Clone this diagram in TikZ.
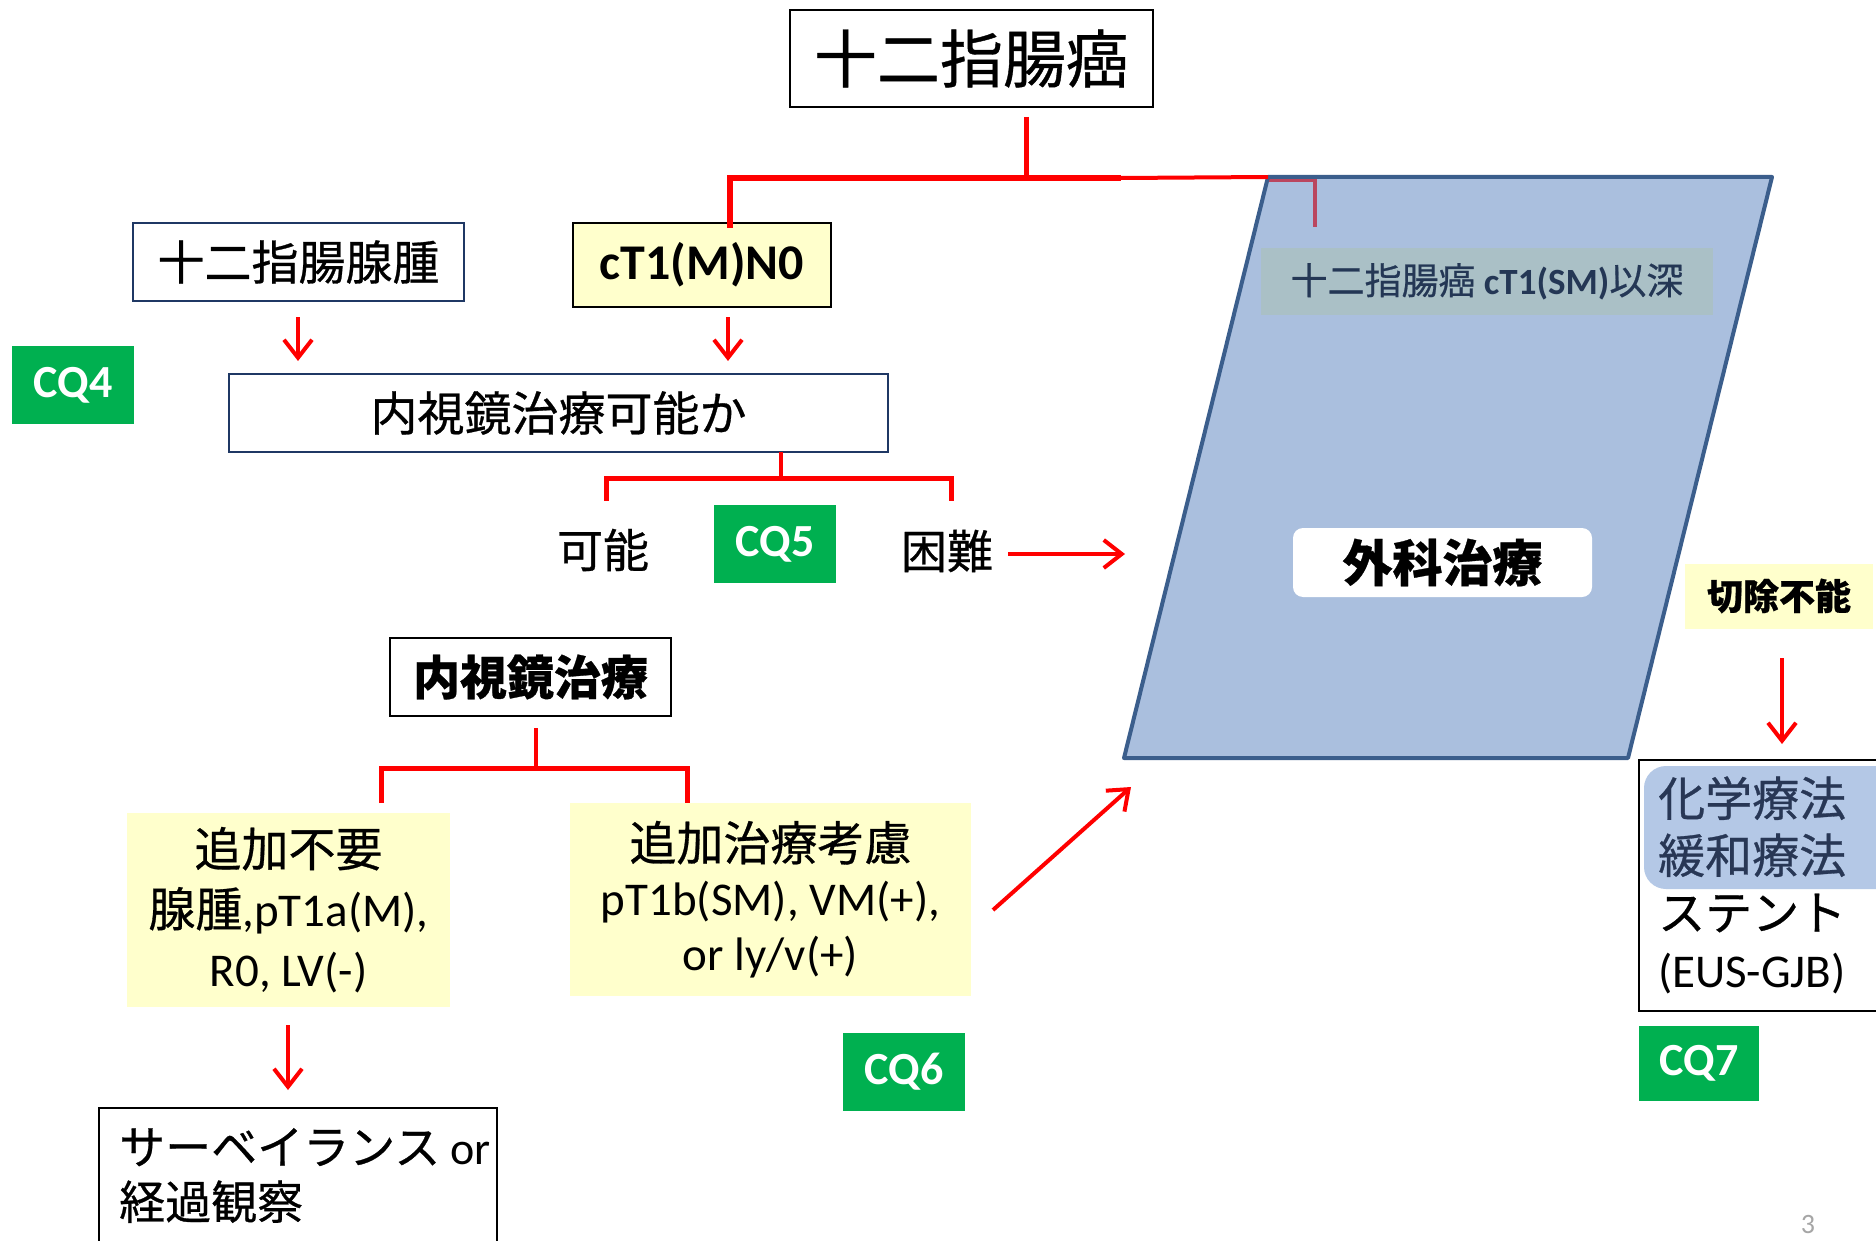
\documentclass[tikz,border=0pt]{standalone}
\usepackage{fontspec}
\setmainfont{Carlito}
\newfontfamily\jp[FakeBold=0.6]{Noto Sans CJK JP}
\usetikzlibrary{arrows.meta}
\definecolor{myred}{RGB}{255,0,0}
\definecolor{cqgreen}{RGB}{0,176,80}
\definecolor{lyellow}{RGB}{255,255,204}
\definecolor{navy}{RGB}{31,56,100}
\definecolor{parafill}{RGB}{170,191,222}
\definecolor{paraline}{RGB}{59,94,140}
\definecolor{labelfill}{RGB}{170,192,198}
\definecolor{labeltext}{RGB}{36,55,85}
\definecolor{mutedred}{RGB}{186,70,95}
\definecolor{chemofill}{RGB}{180,200,230}
\definecolor{chemotext}{RGB}{40,55,85}
\newcommand\fsz[2]{\fontsize{#1}{#2}\selectfont}
\begin{document}
\begin{tikzpicture}[x=1pt,y=-1pt,
  wire/.style={draw=myred,line width=5pt},
  thinwire/.style={draw=myred,line width=4pt},
  arr/.style={draw=myred,line width=4pt,-{Straight Barb[length=18pt,width=28pt]}},
  frame/.style={draw,line width=2pt,inner sep=0pt,align=center},
  navyframe/.style={draw=navy,line width=2pt,inner sep=0pt,align=center},
  yellowbox/.style={fill=lyellow,inner sep=0pt,align=center},
  cq/.style={fill=cqgreen,text=white,inner sep=0pt,minimum width=122pt,minimum height=78pt,font=\fsz{46}{46}\bfseries},
  plain/.style={inner sep=0pt,align=center}
]
\useasboundingbox (0,0) rectangle (1876,1241);
\clip (0,0) rectangle (1876,1241);
\fill[white] (0,0) rectangle (1876,1241);

% ---------- parallelogram (surgery) ----------
\coordinate (p1) at (1268,177);
\coordinate (p2) at (1772,177);
\coordinate (p3) at (1628,758);
\coordinate (p4) at (1124,758);
\fill[parafill] (p1)--(p2)--(p3)--(p4)--cycle;
\coordinate (pin) at (1315,180);
\coordinate (pdrop) at (1315,227);
\draw[mutedred,line width=4pt] (p1) ++(0,3) -- (pin) -- (pdrop);
\draw[paraline,line width=4pt,line join=round] (p1)--(p2)--(p3)--(p4)--cycle;

\node[fill=labelfill,inner sep=0pt,minimum width=452pt,minimum height=67pt,text=labeltext,font=\fsz{37}{37}]
  (sm) at (1487,281.5) {{\jp 十二指腸癌} \textbf{cT1(SM)}{\jp 以深}};
\node[fill=white,rounded corners=10pt,inner sep=0pt,minimum width=299pt,minimum height=69pt,font=\fsz{50}{50}]
  (geka) at (1442.5,562.5) {\jp\bfseries 外科治療};

% ---------- top ----------
\node[frame,minimum width=363pt,minimum height=97pt,font=\fsz{63}{63}] (title) at (971.5,58.5) {\jp 十二指腸癌};
\node[navyframe,minimum width=331pt,minimum height=78pt,font=\fsz{47}{47}] (adenoma) at (298.5,262) {\jp 十二指腸腺腫};
\node[frame,fill=lyellow,minimum width=258pt,minimum height=84pt,font=\fsz{50}{50}\bfseries] (ct1) at (702,265) {cT1(M)N0};
\node[cq] (cq4) at (73,385) {CQ4};
\node[navyframe,minimum width=659pt,minimum height=78pt,font=\fsz{47}{47}] (endoq) at (558.5,413) {\jp 内視鏡治療可能か};

\coordinate (tdrop) at (1026,117);
\coordinate (bus) at (1026,178);
\coordinate (busL) at (730,178);
\coordinate (busM) at (1121,178);
\coordinate (ct1top) at (730,228);
\draw[wire] (tdrop) -- (bus);
\draw[wire,line width=6pt] (ct1top) -- (busL) -- (busM);
\draw[thinwire] (busM) -- (p1);

\draw[arr] (298,317) -- (298,361);
\draw[arr] (728,317) -- (728,361);

% ---------- possible / difficult ----------
\node[plain,font=\fsz{46}{46}] (kanou) at (603,550) {\jp 可能};
\node[cq] (cq5) at (775,544) {CQ5};
\node[plain,font=\fsz{46}{46}] (konnan) at (947,551) {\jp 困難};
\coordinate (eq1) at (781,452);
\coordinate (eq2) at (781,478);
\coordinate (eqL) at (606,478);
\coordinate (eqR) at (951,478);
\draw[thinwire] (eq1) -- (eq2);
\draw[wire,line cap=rect] (606,498) -- (eqL) -- (eqR) -- (951,498);
\coordinate (kIn) at (1125,554);
\draw[arr] (1008,554) -- (kIn);

% ---------- endoscopic treatment ----------
\node[frame,minimum width=281pt,minimum height=78pt,font=\fsz{47}{47}] (endo) at (530.5,677) {\jp\bfseries 内視鏡治療};
\coordinate (e1) at (536,728);
\coordinate (e2) at (536,768);
\coordinate (eL) at (381,768);
\coordinate (eR) at (687,768);
\draw[thinwire] (e1) -- (e2);
\draw[wire] (381,803) -- (eL) -- (eR) -- (687,803);

\node[yellowbox,minimum width=323pt,minimum height=194pt,font=\fsz{47}{60}] (noadd) at (288.5,910)
  {{\jp 追加不要}\\{\jp 腺腫},pT1a(M),\\R0, LV(-)};
\node[yellowbox,minimum width=401pt,minimum height=193pt,font=\fsz{47}{55}] (add) at (770.5,899.5)
  {{\jp 追加治療考慮}\\pT1b(SM), VM(+),\\or ly/v(+)};
\node[cq] (cq6) at (904,1072) {CQ6};
\coordinate (dIn) at (1131,787);
\draw[arr] (993,910) -- (dIn);

\draw[arr] (288,1025) -- (288,1090);
\draw[line width=2pt] (99,1280) -- (99,1108) -- (497,1108) -- (497,1280);
\node[inner sep=0pt,align=left,anchor=west,font=\fsz{46}{55}] (surv) at (119,1175.5)
  {{\jp サーベイランス} or\\{\jp 経過観察}};

% ---------- unresectable ----------
\node[yellowbox,minimum width=188pt,minimum height=65pt,font=\fsz{36}{36}] (unres) at (1779,596) {\jp\bfseries 切除不能};
\draw[arr] (1782,658) -- (1782,744);
\draw[line width=2pt] (1900,760) -- (1639,760) -- (1639,1011) -- (1900,1011);
\fill[chemofill,rounded corners=22pt] (1644,766) rectangle (1920,889);
\node[inner sep=0pt,align=left,anchor=west,font=\fsz{47}{57}] (chemo) at (1658,885)
  {\textcolor{chemotext}{\jp 化学療法}\\\textcolor{chemotext}{\jp 緩和療法}\\{\jp ステント}\\(EUS-GJB)};
\node[cq,minimum width=120pt,minimum height=75pt] (cq7) at (1699,1063.5) {CQ7};

\node[inner sep=0pt,text=gray!70,font=\fsz{28}{28}] (pageno) at (1808,1224) {3};
\end{tikzpicture}
\end{document}
